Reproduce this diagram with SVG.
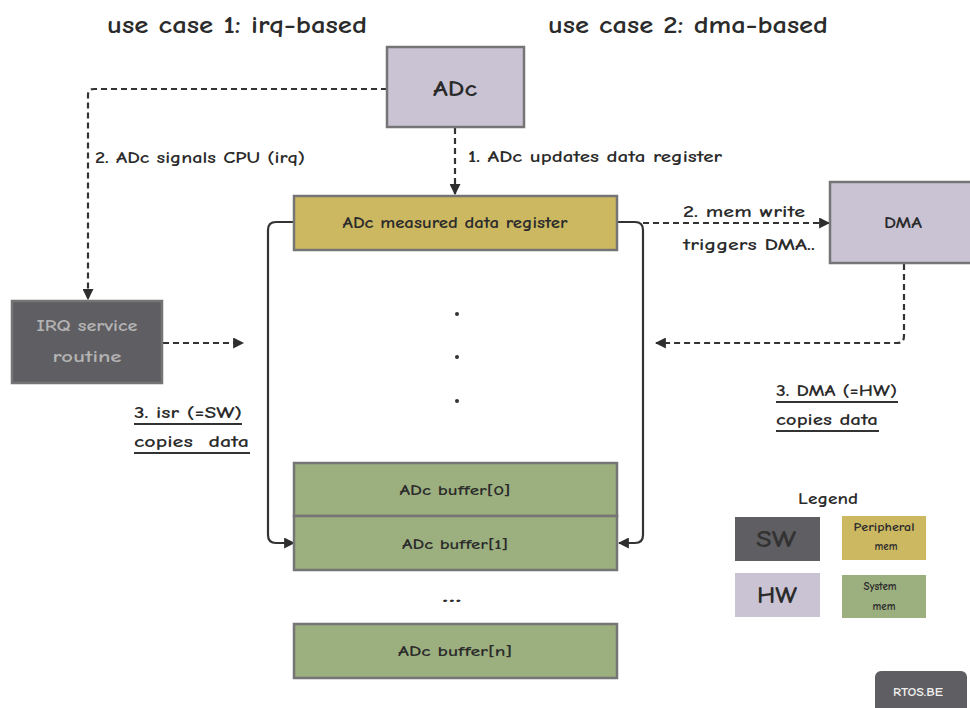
<svg xmlns="http://www.w3.org/2000/svg" width="970" height="708" viewBox="0 0 970 708">
<defs>
<marker id="ah" viewBox="0 0 10 10" refX="9" refY="5" markerWidth="5" markerHeight="5" orient="auto" markerUnits="strokeWidth">
<path d="M0,0 L10,5 L0,10 z" fill="#2e2e2e"/>
</marker>
<style>
text{font-family:"Comic Neue","DejaVu Sans","Liberation Sans",sans-serif;fill:#2b2b2b;font-weight:bold}
.box{stroke:#757575;stroke-width:2.5}
.hw{fill:#c9c3d4}
.sw{fill:#5f5e62}
.per{fill:#cdb862}
.sys{fill:#9caf7f}
.dash{fill:none;stroke:#333;stroke-width:2.2;stroke-dasharray:6 4}
.solid{fill:none;stroke:#333;stroke-width:2.2}
.ul{stroke:#333;stroke-width:2}
.lbl{font-size:16px}
</style>
</defs>
<rect width="970" height="708" fill="#ffffff"/>

<text x="107" y="33" font-size="24" textLength="260" lengthAdjust="spacingAndGlyphs">use case 1: irq-based</text>
<text x="548" y="33" font-size="24" textLength="280" lengthAdjust="spacingAndGlyphs">use case 2: dma-based</text>

<g id="connectors">
<path class="dash" d="M387,89 H94 Q88,89 88,95 V299" marker-end="url(#ah)"/>
<path class="dash" d="M455,128 V194" marker-end="url(#ah)"/>
<path class="dash" d="M643,223 H829" marker-end="url(#ah)"/>
<path class="dash" d="M904,264 V336 Q904,343 897,343 H656" marker-end="url(#ah)"/>
<path class="dash" d="M163,343 H243" marker-end="url(#ah)"/>
<path class="solid" d="M294,222 H276 Q268,222 268,230 V535 Q268,543 276,543 H294" marker-end="url(#ah)"/>
<path class="solid" d="M618,222 H635 Q643,222 643,230 V535 Q643,543 635,543 H619" marker-end="url(#ah)"/>
</g>

<text class="lbl" x="95" y="163" textLength="210" lengthAdjust="spacingAndGlyphs">2. ADc signals CPU (irq)</text>
<text class="lbl" x="468" y="162" textLength="254" lengthAdjust="spacingAndGlyphs">1. ADc updates data register</text>
<text class="lbl" x="683" y="217" textLength="122" lengthAdjust="spacingAndGlyphs">2. mem write</text>
<text class="lbl" x="683" y="250" textLength="132" lengthAdjust="spacingAndGlyphs">triggers DMA..</text>

<g id="adc">
<rect class="box hw" x="387" y="47" width="137" height="80"/>
<text x="455" y="96" font-size="22" text-anchor="middle" textLength="44" lengthAdjust="spacingAndGlyphs">ADc</text>
</g>

<g id="register">
<rect class="box per" x="294" y="196" width="323" height="54"/>
<text x="455" y="228" font-size="15" text-anchor="middle" textLength="225" lengthAdjust="spacingAndGlyphs">ADc measured data register</text>
</g>

<g id="dma">
<rect class="box hw" x="830" y="182" width="145" height="81"/>
<text x="903" y="228" font-size="16" text-anchor="middle" textLength="38" lengthAdjust="spacingAndGlyphs">DMA</text>
</g>

<g id="irq">
<rect class="box sw" x="12" y="301" width="150" height="82"/>
<text x="87" y="331" font-size="16" text-anchor="middle" style="fill:#b3b3b3" textLength="101" lengthAdjust="spacingAndGlyphs">IRQ service</text>
<text x="87" y="362" font-size="16" text-anchor="middle" style="fill:#b3b3b3" textLength="69" lengthAdjust="spacingAndGlyphs">routine</text>
</g>

<g id="isr-label">
<text class="lbl" x="134" y="418" textLength="108" lengthAdjust="spacingAndGlyphs">3. isr (=SW)</text>
<line class="ul" x1="134" y1="424" x2="242" y2="424"/>
<text class="lbl" x="134" y="447" textLength="115" lengthAdjust="spacingAndGlyphs" xml:space="preserve">copies  data</text>
<line class="ul" x1="134" y1="453" x2="250" y2="453"/>
</g>

<g id="dma-label">
<text class="lbl" x="776" y="396" textLength="121" lengthAdjust="spacingAndGlyphs">3. DMA (=HW)</text>
<line class="ul" x1="776" y1="402" x2="898" y2="402"/>
<text class="lbl" x="776" y="425" textLength="102" lengthAdjust="spacingAndGlyphs">copies data</text>
<line class="ul" x1="776" y1="431" x2="879" y2="431"/>
</g>

<g id="dots">
<circle cx="457" cy="314" r="2" fill="#333"/>
<circle cx="457" cy="357" r="2" fill="#333"/>
<circle cx="457" cy="401" r="2" fill="#333"/>
</g>

<g id="buffer0">
<rect class="box sys" x="294" y="463" width="323" height="53"/>
<text x="455" y="495" font-size="14" text-anchor="middle" textLength="111" lengthAdjust="spacingAndGlyphs">ADc buffer[0]</text>
</g>
<g id="buffer1">
<rect class="box sys" x="294" y="516" width="323" height="54"/>
<text x="455" y="549" font-size="14" text-anchor="middle" textLength="106" lengthAdjust="spacingAndGlyphs">ADc buffer[1]</text>
</g>
<text x="452" y="602" font-size="20" text-anchor="middle" textLength="20" lengthAdjust="spacingAndGlyphs">...</text>
<g id="buffern">
<rect class="box sys" x="294" y="624" width="323" height="54"/>
<text x="455" y="656" font-size="14" text-anchor="middle" textLength="114" lengthAdjust="spacingAndGlyphs">ADc buffer[n]</text>
</g>

<g id="legend">
<text x="828" y="504" font-size="16" text-anchor="middle" textLength="60" lengthAdjust="spacingAndGlyphs">Legend</text>
<rect class="sw" x="735" y="517" width="85" height="44"/>
<text x="776" y="547" font-size="24" text-anchor="middle" style="fill:#333" textLength="40" lengthAdjust="spacingAndGlyphs">SW</text>
<rect class="per" x="842" y="516" width="84" height="44"/>
<text x="884" y="531" font-size="11" text-anchor="middle" textLength="61" lengthAdjust="spacingAndGlyphs">Peripheral</text>
<text x="886" y="550" font-size="11" text-anchor="middle">mem</text>
<rect class="hw" x="735" y="573" width="85" height="44"/>
<text x="777" y="603" font-size="24" text-anchor="middle" textLength="40" lengthAdjust="spacingAndGlyphs">HW</text>
<rect class="sys" x="842" y="575" width="84" height="43"/>
<text x="880" y="590" font-size="11" text-anchor="middle">System</text>
<text x="884" y="610" font-size="11" text-anchor="middle">mem</text>
</g>

<g id="badge">
<rect x="875" y="671" width="92" height="42" rx="6" fill="#5f5e62"/>
<text x="918" y="696" font-size="11" text-anchor="middle" style="fill:#f0f0f0" textLength="50" lengthAdjust="spacingAndGlyphs">RTOS.BE</text>
</g>
</svg>
